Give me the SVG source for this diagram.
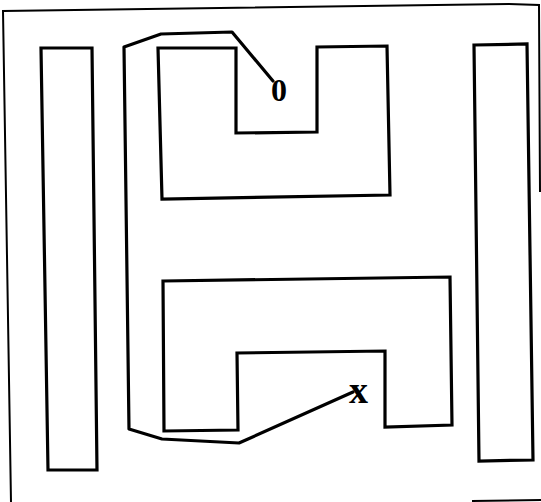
<svg xmlns="http://www.w3.org/2000/svg" width="541" height="502" viewBox="0 0 541 502">
<style>
.frame{fill:none;stroke:#000;stroke-width:2}
.obs{fill:none;stroke:#000;stroke-width:3.2;stroke-linejoin:miter}
.path{fill:none;stroke:#000;stroke-width:3.2;stroke-linejoin:round;stroke-linecap:round}
.lbl{font-family:"Liberation Serif","DejaVu Serif",serif;font-weight:bold;fill:#000}
</style>
<rect width="541" height="502" fill="#fff"/>
<g id="frame">
<polyline class="frame" points="11,502 3,11 509,4 539,5 540,192"/>
<line class="frame" x1="472" y1="501" x2="541" y2="500"/>
</g>
<g id="left-bar"><polygon class="obs" points="41,48 92,48 97,470 48,470"/></g>
<g id="right-bar"><polygon class="obs" points="474,45 527,44 533,460 479,461"/></g>
<g id="upper-block"><polygon class="obs" points="158,48 236,48 236,133 317,132 317,47 387,46 390,195 162,199"/></g>
<g id="lower-block"><polygon class="obs" points="163,281 450,277 452,425 385,427 385,351 237,353 238,430 164,431"/></g>
<g id="connectors">
<polyline class="path" points="273,81 232,32 161,34 124,47 129,429 162,439 239,443 353,392"/>
</g>
<g id="start"><text class="lbl" x="271" y="101" font-size="32">0</text></g>
<g id="goal"><text class="lbl" x="349" y="403" font-size="38">x</text></g>
</svg>
